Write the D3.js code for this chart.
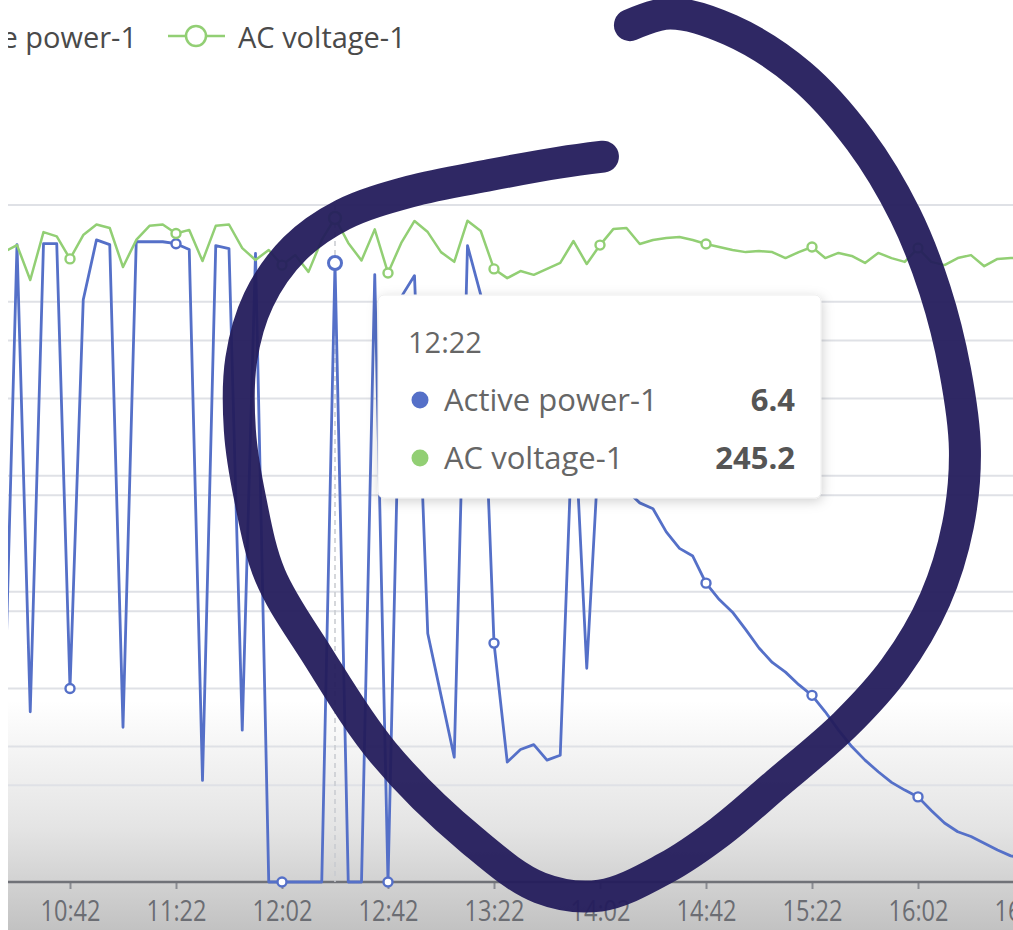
<!DOCTYPE html>
<html><head><meta charset="utf-8">
<script src="https://cdn.jsdelivr.net/npm/d3@7"></script>
<style>html,body{margin:0;padding:0;background:#fff;overflow:hidden}</style>
</head><body><svg id="c" width="1013" height="930"></svg>
<script>
// ---------------- data ----------------
const times = ["10:12","10:17","10:22","10:27","10:32","10:37","10:42","10:47","10:52","10:57",
"11:02","11:07","11:12","11:17","11:22","11:27","11:32","11:37","11:42","11:47","11:52","11:57",
"12:02","12:07","12:12","12:17","12:22","12:27","12:32","12:37","12:42","12:47","12:52","12:57",
"13:02","13:07","13:12","13:17","13:22","13:27","13:32","13:37","13:42","13:47","13:52","13:57",
"14:02","14:07","14:12","14:17","14:22","14:27","14:32","14:37","14:42","14:47","14:52","14:57",
"15:02","15:07","15:12","15:17","15:22","15:27","15:32","15:37","15:42","15:47","15:52","15:57",
"16:02","16:07","16:12","16:17","16:22","16:27","16:32","16:37","16:42"];
const activePower = [4.0,1.5,6.59,1.76,6.6,6.6,2.0,6.02,6.64,6.59,
1.6,6.62,6.62,6.62,6.6,6.54,1.05,6.58,6.55,1.57,6.5,0,
0,0,0,0,6.4,0,0,6.28,0,6.05,6.27,2.57,
1.93,1.29,6.58,6.07,2.47,1.24,1.37,1.42,1.26,1.31,5.0,2.21,
4.7,4.3,4.05,3.92,3.86,3.62,3.45,3.37,3.09,2.92,2.79,2.61,
2.42,2.27,2.17,2.04,1.93,1.76,1.57,1.40,1.26,1.14,1.03,0.95,
0.88,0.74,0.61,0.52,0.47,0.40,0.33,0.27,0.25];
const acVoltage = [238.0,232.6,235.2,222.3,240.0,238.4,230.1,238.9,242.8,241.5,
227.1,237.1,242.3,242.8,239.5,240.8,229.3,242.3,242.8,234.1,229.7,233.4,
227.8,231.5,225.3,237.1,245.2,236.0,229.5,241.0,224.9,236.0,244.1,240.0,
232.6,229.0,244.2,240.4,226.4,223.0,225.6,224.2,226.4,228.6,236.7,228.2,
235.2,241.1,241.5,235.6,237.1,237.8,238.2,237.1,235.6,234.5,233.4,232.6,
233.0,232.6,230.4,232.6,234.5,230.4,232.3,231.2,228.6,232.3,230.4,229.0,
234.1,229.0,227.8,230.4,231.5,227.4,230.1,230.4,230.8];
const xTickLabels = ["10:42","11:22","12:02","12:42","13:22","14:02","14:42","15:22","16:02","16:42"];
const powerTicks = [0,1,2,3,4,5,6,7];
const voltageTicks = [0,50,100,150,200,250];
const seriesNames = ["Active power-1","AC voltage-1"];
const tooltipTime = "12:22";
// hand-drawn annotation loop: [minutes after 10:42, power units]
const annotation = [[211.3,8.86],[226.4,8.98],[249.1,8.81],[275.5,8.35],[298.1,7.67],[315.1,6.90],
[326.4,6.12],[334.0,5.29],[337.7,4.47],[335.1,3.69],[326.4,2.92],[311.3,2.21],[292.5,1.63],
[266.0,1.00],[245.3,0.52],[224.5,0.14],[200.0,-0.14],[177.4,-0.06],[151.7,0.43],[118.1,1.34],
[93.2,2.35],[75.5,3.17],[68.0,3.96],[64.1,4.67],[64.6,5.40],[71.2,6.02],[84.8,6.55],
[102.9,6.90],[128.3,7.14],[158.5,7.31],[184.9,7.44],[201.1,7.50]];

// ---------------- chart ----------------
const BLUE = "#5570c8", GREEN = "#92cf74";
const parse = d3.timeParse("%H:%M");
const svg = d3.select("#c");
const x = d3.scaleTime().domain([parse("10:42"), parse("16:42")]).range([70, 1024]);
const yP = d3.scaleLinear().domain([0, 7]).range([882, 205]);
const yV = d3.scaleLinear().domain([0, 250]).range([882, 205]);
const left = 8, right = 1013;

const defs = svg.append("defs");
const grad = defs.append("linearGradient").attr("id","bg").attr("x1",0).attr("x2",0).attr("y1",0).attr("y2",1);
grad.append("stop").attr("offset","0").attr("stop-color","#ffffff");
grad.append("stop").attr("offset","0.55").attr("stop-color","#ffffff");
grad.append("stop").attr("offset","0.8").attr("stop-color","#e4e4e4");
grad.append("stop").attr("offset","1").attr("stop-color","#c2c2c2");
defs.append("clipPath").attr("id","clip").append("rect").attr("x",left).attr("y",0).attr("width",right-left).attr("height",930);
const sh = defs.append("filter").attr("id","shadow").attr("x","-10%").attr("y","-10%").attr("width","130%").attr("height","130%");
sh.append("feDropShadow").attr("dx",1).attr("dy",3).attr("stdDeviation",6).attr("flood-color","#000").attr("flood-opacity",0.18);

svg.append("rect").attr("width",1013).attr("height",930).attr("fill","#fff");
svg.append("rect").attr("x",left).attr("y",420).attr("width",right-left).attr("height",510).attr("fill","url(#bg)");

const g = svg.append("g").attr("clip-path","url(#clip)");

// grid lines from both value axes
g.append("g").selectAll("line").data(powerTicks.slice(1)).join("line")
  .attr("x1",left).attr("x2",right).attr("y1",d=>yP(d)).attr("y2",d=>yP(d))
  .attr("stroke","#dfe1e6").attr("stroke-width",2);
g.append("g").selectAll("line").data(voltageTicks.slice(1)).join("line")
  .attr("x1",left).attr("x2",right).attr("y1",d=>yV(d)).attr("y2",d=>yV(d))
  .attr("stroke","#dfe1e6").attr("stroke-width",2);

// x axis
const xAxis = d3.axisBottom(x)
  .tickValues(xTickLabels.map(parse))
  .tickFormat(d3.timeFormat("%H:%M"))
  .tickSize(7).tickPadding(10);
const ax = g.append("g").attr("transform","translate(0,882)").call(xAxis);
ax.select(".domain").remove();
ax.append("line").attr("x1",left).attr("x2",right).attr("stroke","#707278").attr("stroke-width",2.5);
ax.selectAll(".tick line").attr("stroke","#8a8c92").attr("stroke-width",2);
ax.selectAll(".tick text").attr("fill","#6b6d73").attr("font-size",30)
  .attr("font-family","'Open Sans', sans-serif")
  .attr("textLength",60).attr("lengthAdjust","spacingAndGlyphs").attr("dy","0.72em");

// axis pointer
const tp = parse(tooltipTime);
g.append("line").attr("x1",x(tp)).attr("x2",x(tp)).attr("y1",205).attr("y2",882)
  .attr("stroke","#c8cad0").attr("stroke-width",1.5).attr("stroke-dasharray","5,4");

const pts = times.map((t,i)=>({t:parse(t), p:activePower[i], v:acVoltage[i], lab:t}));
g.append("path").datum(pts).attr("fill","none").attr("stroke",BLUE).attr("stroke-width",2.8)
  .attr("stroke-linejoin","round")
  .attr("d", d3.line().x(d=>x(d.t)).y(d=>yP(d.p)));
g.append("path").datum(pts).attr("fill","none").attr("stroke",GREEN).attr("stroke-width",2.5)
  .attr("stroke-linejoin","round")
  .attr("d", d3.line().x(d=>x(d.t)).y(d=>yV(d.v)));

const marked = pts.filter(d=>xTickLabels.includes(d.lab));
g.append("g").selectAll("circle").data(marked).join("circle")
  .attr("cx",d=>x(d.t)).attr("cy",d=>yP(d.p)).attr("r",4.5)
  .attr("fill","#fff").attr("stroke",BLUE).attr("stroke-width",2.4);
g.append("g").selectAll("circle").data(marked).join("circle")
  .attr("cx",d=>x(d.t)).attr("cy",d=>yV(d.v)).attr("r",4.5)
  .attr("fill","#fff").attr("stroke",GREEN).attr("stroke-width",2.4);
const hov = pts.find(d=>d.lab===tooltipTime);
g.append("circle").attr("cx",x(hov.t)).attr("cy",yP(hov.p)).attr("r",6.5)
  .attr("fill","#fff").attr("stroke",BLUE).attr("stroke-width",3);
g.append("circle").attr("cx",x(hov.t)).attr("cy",yV(hov.v)).attr("r",6)
  .attr("fill","#fff").attr("stroke",GREEN).attr("stroke-width",2.6);

// legend (clipped like the photo's left edge)
const FONT = "'Open Sans', 'Noto Sans', sans-serif";
const lg = svg.append("g").attr("clip-path","url(#clip)");
lg.append("text").attr("x",137).attr("y",48).attr("text-anchor","end")
  .attr("font-family",FONT).attr("font-size",29).attr("fill","#4a4a4a").text(seriesNames[0]);
lg.append("line").attr("x1",168).attr("x2",225).attr("y1",36).attr("y2",36).attr("stroke",GREEN).attr("stroke-width",2.5);
lg.append("circle").attr("cx",196).attr("cy",36).attr("r",10).attr("fill","#fff").attr("stroke",GREEN).attr("stroke-width",2.5);
lg.append("text").attr("x",238).attr("y",48)
  .attr("font-family",FONT).attr("font-size",29).attr("fill","#4a4a4a").text(seriesNames[1]);

// tooltip
const tx = 378, ty = 295;
const tt = svg.append("g");
tt.append("rect").attr("x",tx).attr("y",ty).attr("width",443).attr("height",203).attr("rx",6)
  .attr("fill","#fff").attr("stroke","#eeeeee").attr("filter","url(#shadow)");
tt.append("text").attr("x",tx+30).attr("y",ty+58).attr("font-family",FONT).attr("font-size",29)
  .attr("fill","#666").text(tooltipTime);
const rows = [{name:seriesNames[0], val:d3.format(".1f")(hov.p), c:BLUE},
              {name:seriesNames[1], val:d3.format(".1f")(hov.v), c:GREEN}];
rows.forEach((r,i)=>{
  const yy = ty + 105 + i*58;
  tt.append("circle").attr("cx",tx+42).attr("cy",yy).attr("r",8.5).attr("fill",r.c);
  tt.append("text").attr("x",tx+66).attr("y",yy+11).attr("font-family",FONT).attr("font-size",31)
    .attr("fill","#666").text(r.name);
  tt.append("text").attr("x",tx+417).attr("y",yy+11).attr("text-anchor","end").attr("font-family",FONT)
    .attr("font-size",31).attr("font-weight","bold").attr("fill","#555").text(r.val);
});

// hand-drawn annotation
const t0 = parse("10:42").getTime();
svg.append("path").datum(annotation).attr("fill","none").attr("stroke","#241c5c").attr("stroke-opacity",0.95)
  .attr("stroke-width",32).attr("stroke-linecap","round").attr("stroke-linejoin","round")
  .attr("d", d3.line().curve(d3.curveCatmullRom).x(d=>x(new Date(t0 + d[0]*60000))).y(d=>yP(d[1])));
</script></body></html>
